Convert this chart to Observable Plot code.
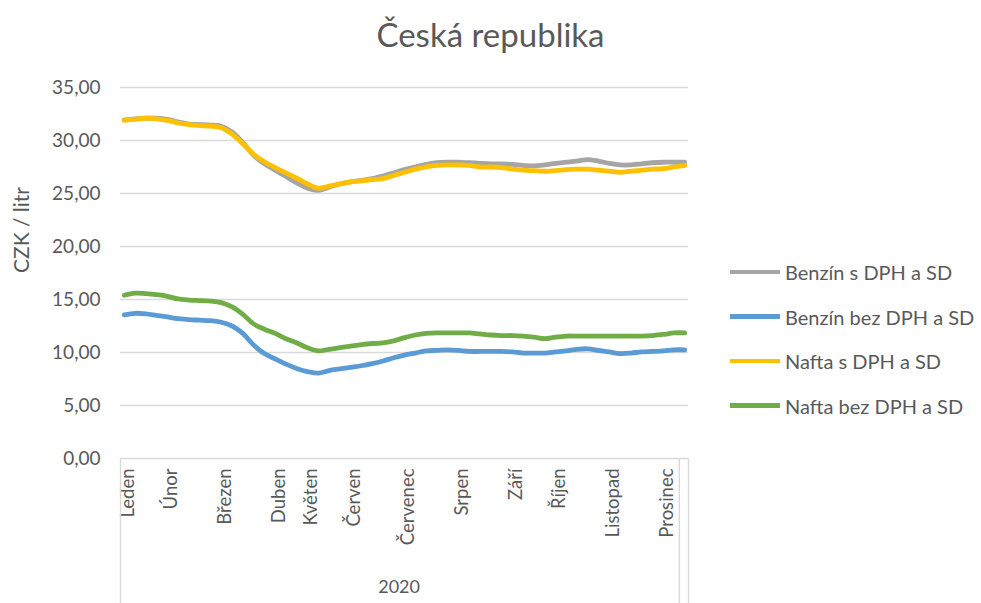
<!DOCTYPE html>
<html>
<head>
<meta charset="utf-8">
<script src="https://cdn.jsdelivr.net/npm/d3@7"></script>
<script src="https://cdn.jsdelivr.net/npm/@observablehq/plot@0.6"></script>
<style>
  body { margin: 0; background: #fff; }
  #wrap { position: relative; width: 981px; height: 603px; overflow: hidden; font-family: Lato, "Open Sans", sans-serif; color: #595959; }
  #title { position: absolute; left: 0; top: 14px; width: 981px; text-align: center; font-size: 33px; }
  #chart { position: absolute; left: 0; top: 0; }
  .lg { position: absolute; left: 730px; height: 20px; display: flex; align-items: center; font-size: 20px; white-space: nowrap; }
  .lg .sw { width: 50px; height: 4.5px; margin-right: 5px; }
</style>
</head>
<body>
<div id="wrap">
  <div id="chart"></div>
  <div id="title">Česká republika</div>
  <div id="legend"></div>
</div>
<script>
// ---- data ----
const months = ["Leden","Únor","Březen","Duben","Květen","Červen","Červenec","Srpen","Září","Říjen","Listopad","Prosinec"];
const monthIdx = [0,4,9,14,17,21,26,31,36,40,45,50];
const yearLabels = ["2020", ""];
const yearFirst = [0, 52];
const yearLast = [51, 52];
const yTicks = [0,5,10,15,20,25,30,35];
const yTitle = "CZK / litr";
const seriesNames = ["Benzín s DPH a SD","Benzín bez DPH a SD","Nafta s DPH a SD","Nafta bez DPH a SD"];
const seriesColors = ["#A5A5A5","#5B9BD5","#FFC000","#70AD47"];

const benzinS = [31.95,32.05,32.1,32.1,32.0,31.75,31.55,31.5,31.45,31.35,30.8,29.8,28.6,27.8,27.2,26.6,26.0,25.5,25.3,25.6,25.9,26.1,26.25,26.4,26.65,26.95,27.25,27.5,27.75,27.9,27.95,27.95,27.9,27.85,27.8,27.8,27.75,27.65,27.6,27.7,27.85,27.95,28.05,28.2,28.05,27.85,27.7,27.7,27.8,27.9,27.95,27.95,27.95];
const benzinBez = [13.55,13.7,13.65,13.5,13.35,13.2,13.1,13.05,13.0,12.85,12.5,11.8,10.7,9.9,9.4,8.9,8.5,8.2,8.05,8.3,8.45,8.6,8.75,8.95,9.2,9.5,9.75,9.95,10.15,10.2,10.25,10.2,10.1,10.1,10.1,10.1,10.05,9.95,9.95,9.95,10.05,10.15,10.3,10.35,10.2,10.05,9.9,9.95,10.05,10.1,10.15,10.25,10.25];
const naftaS = [31.9,32.0,32.1,32.05,31.9,31.65,31.5,31.4,31.35,31.2,30.6,29.7,28.7,28.0,27.45,26.95,26.45,25.9,25.5,25.7,25.9,26.1,26.2,26.3,26.4,26.7,27.0,27.3,27.5,27.65,27.7,27.7,27.65,27.5,27.5,27.45,27.3,27.2,27.15,27.1,27.15,27.25,27.3,27.3,27.2,27.1,27.0,27.1,27.2,27.3,27.35,27.5,27.65];
const naftaBez = [15.4,15.6,15.55,15.45,15.3,15.05,14.95,14.9,14.85,14.7,14.3,13.6,12.7,12.2,11.8,11.3,10.9,10.45,10.15,10.3,10.45,10.6,10.75,10.85,10.9,11.1,11.4,11.65,11.8,11.85,11.85,11.85,11.85,11.75,11.65,11.6,11.6,11.55,11.45,11.3,11.45,11.55,11.55,11.55,11.55,11.55,11.55,11.55,11.55,11.6,11.7,11.85,11.85];

// ---- build ----
const seriesValues = [benzinS, benzinBez, naftaS, naftaBez];
const table = [];
seriesValues.forEach((vals, s) => vals.forEach((v, i) => table.push({i, v, s: seriesNames[s]})));
const n = benzinS.length;
const pad = 0.35;
const groups = yearLabels.map((label, k) => ({label, first: yearFirst[k], last: yearLast[k]}));
const boundaries = [-pad, n - 1 + pad];
for (let k = 1; k < groups.length; k++) boundaries.push((groups[k-1].last + groups[k].first) / 2);

const W = 981, H = 603, mT = 87, mB = 145, mL = 120, mR = 293;
const frameH = H - mT - mB;
const fmt = d => d.toFixed(2).replace(".", ",");

const chart = Plot.plot({
  width: W, height: H,
  marginTop: mT, marginBottom: mB, marginLeft: mL, marginRight: mR,
  style: {fontFamily: "Lato, 'Open Sans', sans-serif", color: "#595959", background: "transparent", overflow: "visible"},
  x: {domain: [-pad, n - 1 + pad]},
  y: {domain: [0, 35]},
  color: {domain: seriesNames, range: seriesColors},
  marks: [
    Plot.gridY(yTicks, {stroke: "#d9d9d9", strokeOpacity: 1, strokeWidth: 1.4}),
    Plot.axisY(yTicks, {tickSize: 0, tickPadding: 20, tickFormat: fmt, fontSize: 19, fill: "#595959", label: null}),
    Plot.text([yTitle], {text: d => d, frameAnchor: "left", rotate: -90, dx: -98, fontSize: 21, fill: "#595959"}),
    Plot.axisX(monthIdx, {tickSize: 0, tickRotate: -90, tickPadding: 10, fontSize: 18.5, fill: "#595959",
      tickFormat: d => months[monthIdx.indexOf(d)], label: null, dx: 3.5}),
    Plot.ruleX(boundaries, {stroke: "#d9d9d9", strokeWidth: 1.4, insetTop: frameH, insetBottom: -mB}),
    Plot.text(groups, {x: d => (d.first + d.last) / 2, text: "label", frameAnchor: "bottom", dy: 134, fontSize: 18, fill: "#595959"}),
    Plot.line(table, {x: "i", y: "v", z: "s", stroke: "s", strokeWidth: 4.8, curve: "catmull-rom"})
  ]
});
document.getElementById("chart").appendChild(chart);

// legend
const legend = document.getElementById("legend");
const legendTop = 262, legendStep = 44.5;
seriesNames.forEach((name, k) => {
  const el = document.createElement("div");
  el.className = "lg";
  el.style.top = (legendTop + k * legendStep) + "px";
  el.innerHTML = `<span class="sw" style="background:${seriesColors[k]}"></span><span>${name}</span>`;
  legend.appendChild(el);
});
</script>
</body>
</html>
